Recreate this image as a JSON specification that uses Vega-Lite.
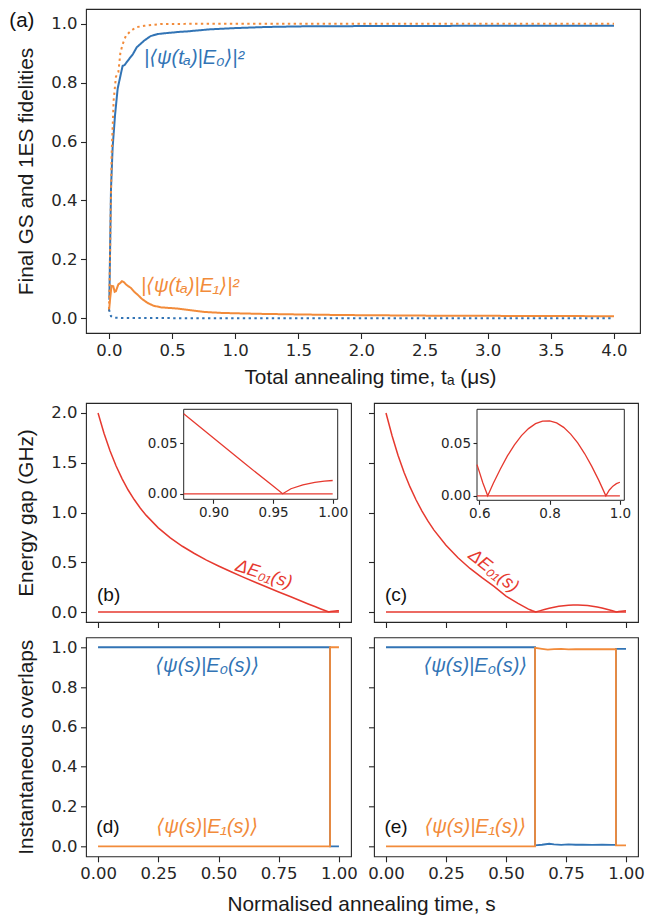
{
  "$schema": "https://vega.github.io/schema/vega-lite/v6.json",
  "background": "white",
  "padding": {"left": 8, "top": 8, "right": 5, "bottom": 5},
  "spacing": 14,
  "config": {
    "view": {"stroke": "#262626", "strokeWidth": 1.1},
    "axis": {
      "domain": false, "grid": false, "ticks": true,
      "tickColor": "#262626", "tickSize": 5.5, "tickWidth": 1.1,
      "labelFont": "DejaVu Sans", "labelFontSize": 16.5, "labelColor": "#262626",
      "labelPadding": 3.5, "labelFlush": false, "labelOverlap": false,
      "titleFont": "Liberation Sans", "titleFontSize": 20.8, "titleFontWeight": "normal", "titleColor": "#1a1a1a"
    }
  },
  "datasets": {
    "a": [
      {"t":0.003,"f":0.063,"series":"E0"},{"t":0.016,"f":0.44,"series":"E0"},{"t":0.029,"f":0.58,"series":"E0"},{"t":0.048,"f":0.69,"series":"E0"},{"t":0.069,"f":0.78,"series":"E0"},{"t":0.082,"f":0.806,"series":"E0"},{"t":0.108,"f":0.857,"series":"E0"},{"t":0.124,"f":0.86,"series":"E0"},{"t":0.15,"f":0.875,"series":"E0"},{"t":0.19,"f":0.897,"series":"E0"},{"t":0.22,"f":0.92,"series":"E0"},{"t":0.28,"f":0.943,"series":"E0"},{"t":0.33,"f":0.958,"series":"E0"},{"t":0.385,"f":0.965,"series":"E0"},{"t":0.45,"f":0.968,"series":"E0"},{"t":0.55,"f":0.972,"series":"E0"},{"t":0.62,"f":0.974,"series":"E0"},{"t":0.8,"f":0.981,"series":"E0"},{"t":0.99,"f":0.985,"series":"E0"},{"t":1.25,"f":0.989,"series":"E0"},{"t":1.52,"f":0.991,"series":"E0"},{"t":2.0,"f":0.992,"series":"E0"},{"t":3.0,"f":0.993,"series":"E0"},{"t":4.0,"f":0.993,"series":"E0"},
      {"t":0.0,"f":0.024,"series":"E1"},{"t":0.01,"f":0.07,"series":"E1"},{"t":0.02,"f":0.11,"series":"E1"},{"t":0.034,"f":0.109,"series":"E1"},{"t":0.045,"f":0.09,"series":"E1"},{"t":0.055,"f":0.092,"series":"E1"},{"t":0.074,"f":0.115,"series":"E1"},{"t":0.09,"f":0.12,"series":"E1"},{"t":0.103,"f":0.126,"series":"E1"},{"t":0.12,"f":0.122,"series":"E1"},{"t":0.135,"f":0.115,"series":"E1"},{"t":0.155,"f":0.108,"series":"E1"},{"t":0.174,"f":0.103,"series":"E1"},{"t":0.2,"f":0.09,"series":"E1"},{"t":0.227,"f":0.08,"series":"E1"},{"t":0.26,"f":0.066,"series":"E1"},{"t":0.306,"f":0.052,"series":"E1"},{"t":0.35,"f":0.043,"series":"E1"},{"t":0.412,"f":0.037,"series":"E1"},{"t":0.48,"f":0.035,"series":"E1"},{"t":0.544,"f":0.033,"series":"E1"},{"t":0.65,"f":0.027,"series":"E1"},{"t":0.755,"f":0.0215,"series":"E1"},{"t":0.9,"f":0.018,"series":"E1"},{"t":1.2,"f":0.015,"series":"E1"},{"t":1.5,"f":0.013,"series":"E1"},{"t":1.84,"f":0.011,"series":"E1"},{"t":2.5,"f":0.009,"series":"E1"},{"t":3.2,"f":0.008,"series":"E1"},{"t":4.0,"f":0.007,"series":"E1"},
      {"t":0.0,"f":0.03,"series":"E0 dotted"},{"t":0.005,"f":0.12,"series":"E0 dotted"},{"t":0.011,"f":0.285,"series":"E0 dotted"},{"t":0.021,"f":0.557,"series":"E0 dotted"},{"t":0.037,"f":0.74,"series":"E0 dotted"},{"t":0.055,"f":0.82,"series":"E0 dotted"},{"t":0.074,"f":0.835,"series":"E0 dotted"},{"t":0.09,"f":0.9,"series":"E0 dotted"},{"t":0.108,"f":0.93,"series":"E0 dotted"},{"t":0.135,"f":0.96,"series":"E0 dotted"},{"t":0.174,"f":0.976,"series":"E0 dotted"},{"t":0.214,"f":0.988,"series":"E0 dotted"},{"t":0.28,"f":0.993,"series":"E0 dotted"},{"t":0.412,"f":0.999,"series":"E0 dotted"},{"t":0.6,"f":0.9995,"series":"E0 dotted"},{"t":1.0,"f":1.0,"series":"E0 dotted"},{"t":2.0,"f":1.0,"series":"E0 dotted"},{"t":3.0,"f":1.0,"series":"E0 dotted"},{"t":4.0,"f":1.0,"series":"E0 dotted"},
      {"t":0.0,"f":0.03,"series":"E1 dotted"},{"t":0.016,"f":0.007,"series":"E1 dotted"},{"t":0.04,"f":0.002,"series":"E1 dotted"},{"t":0.1,"f":0.001,"series":"E1 dotted"},{"t":0.5,"f":0.0005,"series":"E1 dotted"},{"t":1.0,"f":0.0,"series":"E1 dotted"},{"t":2.0,"f":0.0,"series":"E1 dotted"},{"t":3.0,"f":0.0,"series":"E1 dotted"},{"t":4.0,"f":0.0,"series":"E1 dotted"}
    ],
    "b": [
      {"s":0,"E":2.0,"series":"gap"},{"s":0.025,"E":1.793,"series":"gap"},{"s":0.05,"E":1.617,"series":"gap"},{"s":0.075,"E":1.467,"series":"gap"},{"s":0.1,"E":1.338,"series":"gap"},{"s":0.125,"E":1.226,"series":"gap"},{"s":0.15,"E":1.13,"series":"gap"},{"s":0.175,"E":1.045,"series":"gap"},{"s":0.2,"E":0.971,"series":"gap"},{"s":0.25,"E":0.846,"series":"gap"},{"s":0.3,"E":0.745,"series":"gap"},{"s":0.35,"E":0.661,"series":"gap"},{"s":0.4,"E":0.588,"series":"gap"},{"s":0.45,"E":0.522,"series":"gap"},{"s":0.5,"E":0.463,"series":"gap"},{"s":0.55,"E":0.407,"series":"gap"},{"s":0.6,"E":0.353,"series":"gap"},{"s":0.65,"E":0.302,"series":"gap"},{"s":0.7,"E":0.251,"series":"gap"},{"s":0.75,"E":0.202,"series":"gap"},{"s":0.8,"E":0.153,"series":"gap"},{"s":0.85,"E":0.104,"series":"gap"},{"s":0.875,"E":0.0788,"series":"gap"},{"s":0.9,"E":0.055,"series":"gap"},{"s":0.925,"E":0.031,"series":"gap"},{"s":0.95,"E":0.0076,"series":"gap"},{"s":0.958,"E":0.0,"series":"gap"},{"s":0.965,"E":0.005,"series":"gap"},{"s":0.975,"E":0.0088,"series":"gap"},{"s":0.985,"E":0.0112,"series":"gap"},{"s":0.993,"E":0.0125,"series":"gap"},{"s":1.0,"E":0.0131,"series":"gap"},
      {"s":0,"E":0,"series":"zero"},{"s":0.875,"E":0,"series":"zero"},{"s":1.0,"E":0,"series":"zero"}
    ],
    "c": [
      {"s":0,"E":2.0,"series":"gap"},{"s":0.025,"E":1.773,"series":"gap"},{"s":0.05,"E":1.576,"series":"gap"},{"s":0.075,"E":1.405,"series":"gap"},{"s":0.1,"E":1.257,"series":"gap"},{"s":0.125,"E":1.128,"series":"gap"},{"s":0.15,"E":1.014,"series":"gap"},{"s":0.175,"E":0.913,"series":"gap"},{"s":0.2,"E":0.823,"series":"gap"},{"s":0.25,"E":0.671,"series":"gap"},{"s":0.3,"E":0.545,"series":"gap"},{"s":0.35,"E":0.438,"series":"gap"},{"s":0.4,"E":0.345,"series":"gap"},{"s":0.45,"E":0.258,"series":"gap"},{"s":0.5,"E":0.16,"series":"gap"},{"s":0.55,"E":0.087,"series":"gap"},{"s":0.5935,"E":0.0297,"series":"gap"},{"s":0.6,"E":0.023,"series":"gap"},{"s":0.61,"E":0.0125,"series":"gap"},{"s":0.624,"E":0.0,"series":"gap"},{"s":0.64,"E":0.012,"series":"gap"},{"s":0.66,"E":0.0255,"series":"gap"},{"s":0.68,"E":0.038,"series":"gap"},{"s":0.7,"E":0.0485,"series":"gap"},{"s":0.72,"E":0.0573,"series":"gap"},{"s":0.74,"E":0.064,"series":"gap"},{"s":0.76,"E":0.0687,"series":"gap"},{"s":0.78,"E":0.0712,"series":"gap"},{"s":0.8,"E":0.0714,"series":"gap"},{"s":0.82,"E":0.0694,"series":"gap"},{"s":0.84,"E":0.0652,"series":"gap"},{"s":0.86,"E":0.0588,"series":"gap"},{"s":0.88,"E":0.0504,"series":"gap"},{"s":0.9,"E":0.04,"series":"gap"},{"s":0.92,"E":0.028,"series":"gap"},{"s":0.94,"E":0.0147,"series":"gap"},{"s":0.96,"E":0.0,"series":"gap"},{"s":0.97,"E":0.0055,"series":"gap"},{"s":0.98,"E":0.0092,"series":"gap"},{"s":0.99,"E":0.0116,"series":"gap"},{"s":1.0,"E":0.0129,"series":"gap"},
      {"s":0,"E":0,"series":"zero"},{"s":0.5935,"E":0,"series":"zero"},{"s":1.0,"E":0,"series":"zero"}
    ],
    "d": [
      {"s":0,"f":1.0,"series":"E0","i":0},{"s":0.963,"f":1.0,"series":"E0","i":1},{"s":0.963,"f":0.0,"series":"E0","i":2},{"s":1.0,"f":0.0,"series":"E0","i":3},
      {"s":0,"f":0.0,"series":"E1","i":0},{"s":0.963,"f":0.0,"series":"E1","i":1},{"s":0.963,"f":1.0,"series":"E1","i":2},{"s":1.0,"f":1.0,"series":"E1","i":3}
    ],
    "e": [
      {"s":0,"f":1.0,"series":"E0","i":0},{"s":0.621,"f":1.0,"series":"E0","i":1},{"s":0.621,"f":0.005,"series":"E0","i":2},{"s":0.65,"f":0.008,"series":"E0","i":3},{"s":0.68,"f":0.013,"series":"E0","i":4},{"s":0.7,"f":0.01,"series":"E0","i":5},{"s":0.73,"f":0.007,"series":"E0","i":6},{"s":0.76,"f":0.01,"series":"E0","i":7},{"s":0.79,"f":0.008,"series":"E0","i":8},{"s":0.82,"f":0.009,"series":"E0","i":9},{"s":0.86,"f":0.007,"series":"E0","i":10},{"s":0.9,"f":0.008,"series":"E0","i":11},{"s":0.94,"f":0.007,"series":"E0","i":12},{"s":0.958,"f":0.007,"series":"E0","i":13},{"s":0.958,"f":0.992,"series":"E0","i":14},{"s":1.0,"f":0.992,"series":"E0","i":15},
      {"s":0,"f":0.0,"series":"E1","i":0},{"s":0.621,"f":0.0,"series":"E1","i":1},{"s":0.621,"f":0.997,"series":"E1","i":2},{"s":0.65,"f":0.992,"series":"E1","i":3},{"s":0.674,"f":0.988,"series":"E1","i":4},{"s":0.7,"f":0.991,"series":"E1","i":5},{"s":0.73,"f":0.992,"series":"E1","i":6},{"s":0.76,"f":0.989,"series":"E1","i":7},{"s":0.79,"f":0.991,"series":"E1","i":8},{"s":0.82,"f":0.99,"series":"E1","i":9},{"s":0.86,"f":0.991,"series":"E1","i":10},{"s":0.9,"f":0.99,"series":"E1","i":11},{"s":0.94,"f":0.99,"series":"E1","i":12},{"s":0.958,"f":0.99,"series":"E1","i":13},{"s":0.958,"f":0.005,"series":"E1","i":14},{"s":1.0,"f":0.005,"series":"E1","i":15}
    ]
  },
  "vconcat": [
    {
      "width": 554, "height": 324,
      "layer": [
        {
          "data": {"name": "a"},
          "mark": {"type": "line", "strokeWidth": 2},
          "encoding": {
            "x": {"field": "t", "type": "quantitative", "scale": {"domain": [-0.182, 4.206], "nice": false, "zero": false},
                  "axis": {"values": [0, 0.5, 1, 1.5, 2, 2.5, 3, 3.5, 4], "format": ".1f", "title": "Total annealing time, tₐ (μs)", "titleX": 284, "titleY": 44, "titleBaseline": "middle", "titleAlign": "center"}},
            "y": {"field": "f", "type": "quantitative", "scale": {"domain": [-0.05, 1.05], "nice": false, "zero": false},
                  "axis": {"values": [0, 0.2, 0.4, 0.6, 0.8, 1.0], "format": ".1f", "title": "Final GS and 1ES fidelities", "titleX": -60, "titleY": 162, "titleBaseline": "middle", "titleAlign": "center"}},
            "color": {"field": "series", "type": "nominal", "scale": {"domain": ["E0", "E1", "E0 dotted", "E1 dotted"], "range": ["#3274b5", "#f28b3a", "#f28b3a", "#3274b5"]}, "legend": null},
            "strokeDash": {"field": "series", "type": "nominal", "scale": {"domain": ["E0", "E1", "E0 dotted", "E1 dotted"], "range": [[1, 0], [1, 0], [2.4, 3.4], [2.4, 3.4]]}, "legend": null},
            "strokeWidth": {"field": "series", "type": "nominal", "scale": {"domain": ["E0", "E1", "E0 dotted", "E1 dotted"], "range": [2, 2, 2.4, 2.4]}, "legend": null}
          }
        },
        {
          "data": {"values": [{"t": 0.277, "f": 0.884, "label": "|⟨ψ(tₐ)|E₀⟩|²"}]},
          "mark": {"type": "text", "align": "left", "baseline": "middle", "font": "Liberation Sans, DejaVu Sans", "fontStyle": "italic", "fontSize": 20, "color": "#3274b5"},
          "encoding": {"x": {"field": "t", "type": "quantitative"}, "y": {"field": "f", "type": "quantitative"}, "text": {"field": "label"}}
        },
        {
          "data": {"values": [{"t": 0.253, "f": 0.109, "label": "|⟨ψ(tₐ)|E₁⟩|²"}]},
          "mark": {"type": "text", "align": "left", "baseline": "middle", "font": "Liberation Sans, DejaVu Sans", "fontStyle": "italic", "fontSize": 20, "color": "#f28b3a"},
          "encoding": {"x": {"field": "t", "type": "quantitative"}, "y": {"field": "f", "type": "quantitative"}, "text": {"field": "label"}}
        },
        {
          "data": {"values": [{"t": -0.69, "f": 1.01, "label": "(a)"}]},
          "mark": {"type": "text", "align": "center", "baseline": "middle", "font": "Liberation Sans", "fontSize": 20.5, "color": "#111111"},
          "encoding": {"x": {"field": "t", "type": "quantitative"}, "y": {"field": "f", "type": "quantitative"}, "text": {"field": "label"}}
        }
      ]
    },
    {
      "spacing": 7.3,
      "vconcat": [
        {
          "bounds": "flush", "spacing": 23,
          "hconcat": [
            {
              "width": 265, "height": 219,
              "layer": [
                {
                  "layer": [
                    {
                      "data": {"name": "b"},
                      "mark": {"type": "line", "color": "#e6392f", "strokeWidth": 1.5},
                      "encoding": {
                        "x": {"field": "s", "type": "quantitative", "scale": {"domain": [-0.05, 1.05], "nice": false, "zero": false}, "axis": {"values": [0, 0.25, 0.5, 0.75, 1], "labels": false, "title": null}},
                        "y": {"field": "E", "type": "quantitative", "scale": {"domain": [-0.1, 2.1], "nice": false, "zero": false}, "axis": {"values": [0, 0.5, 1, 1.5, 2], "format": ".1f", "title": "Energy gap (GHz)", "titleX": -60, "titleY": 109.5, "titleBaseline": "middle", "titleAlign": "center"}},
                        "detail": {"field": "series"}
                      }
                    },
                    {
                      "data": {"values": [{"s": 0.688, "E": 0.376, "label": "ΔE₀₁(s)"}]},
                      "mark": {"type": "text", "align": "center", "baseline": "middle", "angle": 18, "font": "Liberation Sans, DejaVu Sans", "fontStyle": "italic", "fontSize": 18, "color": "#e6392f"},
                      "encoding": {"x": {"field": "s", "type": "quantitative"}, "y": {"field": "E", "type": "quantitative"}, "text": {"field": "label"}}
                    },
                    {
                      "data": {"values": [{"s": 0.044, "E": 0.175, "label": "(b)"}]},
                      "mark": {"type": "text", "align": "center", "baseline": "middle", "font": "Liberation Sans", "fontSize": 19, "color": "#111111"},
                      "encoding": {"x": {"field": "s", "type": "quantitative"}, "y": {"field": "E", "type": "quantitative"}, "text": {"field": "label"}}
                    }
                  ]
                },
                {
                  "layer": [
                    {
                      "data": {"values": [{}]},
                      "mark": {"type": "rect", "fill": "white", "stroke": "#262626", "strokeWidth": 1},
                      "encoding": {
                        "x": {"datum": 0.875, "type": "quantitative", "scale": {"domain": [0.875, 1.0042], "range": [97.7, 251.7], "nice": false, "zero": false}, "axis": {"orient": "bottom", "offset": -122.7, "values": [0.9, 0.95, 1.0], "format": ".2f", "title": null, "labelFontSize": 13.5, "tickSize": 4, "labelPadding": 2.5}},
                        "x2": {"datum": 1.0042},
                        "y": {"datum": -0.0054, "type": "quantitative", "scale": {"domain": [-0.0054, 0.0832], "range": [96.3, 6.3], "nice": false, "zero": false}, "axis": {"orient": "left", "offset": -97.7, "values": [0, 0.05], "format": ".2f", "title": null, "labelFontSize": 13.5, "tickSize": 4, "labelPadding": 2.5}},
                        "y2": {"datum": 0.0832}
                      }
                    },
                    {
                      "data": {"name": "b"},
                      "transform": [{"filter": "datum.s >= 0.875"}],
                      "mark": {"type": "line", "color": "#e6392f", "strokeWidth": 1.3},
                      "encoding": {
                        "x": {"field": "s", "type": "quantitative"},
                        "y": {"field": "E", "type": "quantitative"},
                        "detail": {"field": "series"}
                      }
                    }
                  ]
                }
              ],
              "resolve": {"scale": {"x": "independent", "y": "independent"}, "axis": {"x": "independent", "y": "independent"}}
            },
            {
              "width": 264, "height": 219,
              "layer": [
                {
                  "layer": [
                    {
                      "data": {"name": "c"},
                      "mark": {"type": "line", "color": "#e6392f", "strokeWidth": 1.5},
                      "encoding": {
                        "x": {"field": "s", "type": "quantitative", "scale": {"domain": [-0.05, 1.05], "nice": false, "zero": false}, "axis": {"values": [0, 0.25, 0.5, 0.75, 1], "labels": false, "title": null}},
                        "y": {"field": "E", "type": "quantitative", "scale": {"domain": [-0.1, 2.1], "nice": false, "zero": false}, "axis": {"values": [0, 0.5, 1, 1.5, 2], "labels": false, "title": null}},
                        "detail": {"field": "series"}
                      }
                    },
                    {
                      "data": {"values": [{"s": 0.447, "E": 0.41, "label": "ΔE₀₁(s)"}]},
                      "mark": {"type": "text", "align": "center", "baseline": "middle", "angle": 38, "font": "Liberation Sans, DejaVu Sans", "fontStyle": "italic", "fontSize": 18, "color": "#e6392f"},
                      "encoding": {"x": {"field": "s", "type": "quantitative"}, "y": {"field": "E", "type": "quantitative"}, "text": {"field": "label"}}
                    },
                    {
                      "data": {"values": [{"s": 0.042, "E": 0.175, "label": "(c)"}]},
                      "mark": {"type": "text", "align": "center", "baseline": "middle", "font": "Liberation Sans", "fontSize": 19, "color": "#111111"},
                      "encoding": {"x": {"field": "s", "type": "quantitative"}, "y": {"field": "E", "type": "quantitative"}, "text": {"field": "label"}}
                    }
                  ]
                },
                {
                  "layer": [
                    {
                      "data": {"values": [{}]},
                      "mark": {"type": "rect", "fill": "white", "stroke": "#262626", "strokeWidth": 1},
                      "encoding": {
                        "x": {"datum": 0.5935, "type": "quantitative", "scale": {"domain": [0.5935, 1.0125], "range": [103, 250.3], "nice": false, "zero": false}, "axis": {"orient": "bottom", "offset": -121.7, "values": [0.6, 0.8, 1.0], "format": ".1f", "title": null, "labelFontSize": 13.5, "tickSize": 4, "labelPadding": 2.5}},
                        "x2": {"datum": 1.0125},
                        "y": {"datum": -0.0043, "type": "quantitative", "scale": {"domain": [-0.0043, 0.0824], "range": [97.3, 6.3], "nice": false, "zero": false}, "axis": {"orient": "left", "offset": -103, "values": [0, 0.05], "format": ".2f", "title": null, "labelFontSize": 13.5, "tickSize": 4, "labelPadding": 2.5}},
                        "y2": {"datum": 0.0824}
                      }
                    },
                    {
                      "data": {"name": "c"},
                      "transform": [{"filter": "datum.s >= 0.5935"}],
                      "mark": {"type": "line", "color": "#e6392f", "strokeWidth": 1.3},
                      "encoding": {
                        "x": {"field": "s", "type": "quantitative"},
                        "y": {"field": "E", "type": "quantitative"},
                        "detail": {"field": "series"}
                      }
                    }
                  ]
                }
              ],
              "resolve": {"scale": {"x": "independent", "y": "independent"}, "axis": {"x": "independent", "y": "independent"}}
            }
          ]
        },
        {
          "bounds": "flush", "spacing": 23,
          "hconcat": [
            {
              "width": 265, "height": 219,
              "layer": [
                {
                  "data": {"name": "d"},
                  "mark": {"type": "line", "strokeWidth": 1.8},
                  "encoding": {
                    "x": {"field": "s", "type": "quantitative", "scale": {"domain": [-0.05, 1.05], "nice": false, "zero": false}, "axis": {"values": [0, 0.25, 0.5, 0.75, 1], "format": ".2f", "title": "Normalised annealing time, s", "titleX": 275, "titleY": 48, "titleBaseline": "middle", "titleAlign": "center"}},
                    "y": {"field": "f", "type": "quantitative", "scale": {"domain": [-0.05, 1.05], "nice": false, "zero": false}, "axis": {"values": [0, 0.2, 0.4, 0.6, 0.8, 1.0], "format": ".1f", "title": "Instantaneous overlaps", "titleX": -60, "titleY": 109.5, "titleBaseline": "middle", "titleAlign": "center"}},
                    "color": {"field": "series", "type": "nominal", "scale": {"domain": ["E0", "E1"], "range": ["#3274b5", "#f28b3a"]}, "legend": null},
                    "order": {"field": "i", "type": "quantitative"}
                  }
                },
                {
                  "data": {"values": [{"s": 0.453, "f": 0.907, "label": "⟨ψ(s)|E₀(s)⟩"}]},
                  "mark": {"type": "text", "align": "center", "baseline": "middle", "font": "Liberation Sans, DejaVu Sans", "fontStyle": "italic", "fontSize": 20, "color": "#3274b5"},
                  "encoding": {"x": {"field": "s", "type": "quantitative"}, "y": {"field": "f", "type": "quantitative"}, "text": {"field": "label"}}
                },
                {
                  "data": {"values": [{"s": 0.453, "f": 0.097, "label": "⟨ψ(s)|E₁(s)⟩"}]},
                  "mark": {"type": "text", "align": "center", "baseline": "middle", "font": "Liberation Sans, DejaVu Sans", "fontStyle": "italic", "fontSize": 20, "color": "#f28b3a"},
                  "encoding": {"x": {"field": "s", "type": "quantitative"}, "y": {"field": "f", "type": "quantitative"}, "text": {"field": "label"}}
                },
                {
                  "data": {"values": [{"s": 0.041, "f": 0.097, "label": "(d)"}]},
                  "mark": {"type": "text", "align": "center", "baseline": "middle", "font": "Liberation Sans", "fontSize": 19, "color": "#111111"},
                  "encoding": {"x": {"field": "s", "type": "quantitative"}, "y": {"field": "f", "type": "quantitative"}, "text": {"field": "label"}}
                }
              ]
            },
            {
              "width": 264, "height": 219,
              "layer": [
                {
                  "data": {"name": "e"},
                  "mark": {"type": "line", "strokeWidth": 1.8},
                  "encoding": {
                    "x": {"field": "s", "type": "quantitative", "scale": {"domain": [-0.05, 1.05], "nice": false, "zero": false}, "axis": {"values": [0, 0.25, 0.5, 0.75, 1], "format": ".2f", "title": null}},
                    "y": {"field": "f", "type": "quantitative", "scale": {"domain": [-0.05, 1.05], "nice": false, "zero": false}, "axis": {"values": [0, 0.2, 0.4, 0.6, 0.8, 1.0], "labels": false, "title": null}},
                    "color": {"field": "series", "type": "nominal", "scale": {"domain": ["E0", "E1"], "range": ["#3274b5", "#f28b3a"]}, "legend": null},
                    "order": {"field": "i", "type": "quantitative"}
                  }
                },
                {
                  "data": {"values": [{"s": 0.372, "f": 0.907, "label": "⟨ψ(s)|E₀(s)⟩"}]},
                  "mark": {"type": "text", "align": "center", "baseline": "middle", "font": "Liberation Sans, DejaVu Sans", "fontStyle": "italic", "fontSize": 20, "color": "#3274b5"},
                  "encoding": {"x": {"field": "s", "type": "quantitative"}, "y": {"field": "f", "type": "quantitative"}, "text": {"field": "label"}}
                },
                {
                  "data": {"values": [{"s": 0.372, "f": 0.097, "label": "⟨ψ(s)|E₁(s)⟩"}]},
                  "mark": {"type": "text", "align": "center", "baseline": "middle", "font": "Liberation Sans, DejaVu Sans", "fontStyle": "italic", "fontSize": 20, "color": "#f28b3a"},
                  "encoding": {"x": {"field": "s", "type": "quantitative"}, "y": {"field": "f", "type": "quantitative"}, "text": {"field": "label"}}
                },
                {
                  "data": {"values": [{"s": 0.042, "f": 0.097, "label": "(e)"}]},
                  "mark": {"type": "text", "align": "center", "baseline": "middle", "font": "Liberation Sans", "fontSize": 19, "color": "#111111"},
                  "encoding": {"x": {"field": "s", "type": "quantitative"}, "y": {"field": "f", "type": "quantitative"}, "text": {"field": "label"}}
                }
              ]
            }
          ]
        }
      ]
    }
  ]
}
